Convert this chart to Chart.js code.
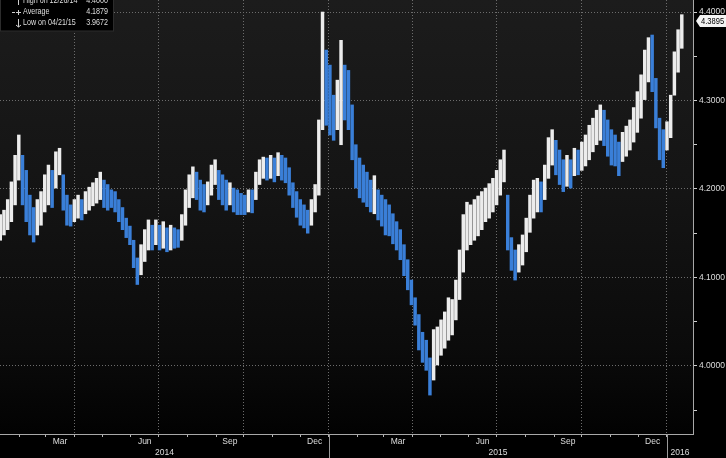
<!DOCTYPE html>
<html>
<head>
<meta charset="utf-8">
<script src="https://cdn.jsdelivr.net/npm/chart.js@4.4.1/dist/chart.umd.min.js"></script>
<style>
  html, body { margin: 0; padding: 0; background: #000; }
  #wrap { width: 726px; height: 458px; }
</style>
</head>
<body>
<div id="wrap"><canvas id="myChart" width="726" height="458"></canvas></div>
<script>
// sampled bars, Jan 2014 - Jan 2016
const dates = [
  '2014-01-11','2014-01-15','2014-01-19','2014-01-23','2014-01-27','2014-01-31',
  '2014-02-04','2014-02-08','2014-02-12','2014-02-16','2014-02-20','2014-02-24','2014-02-28',
  '2014-03-04','2014-03-08','2014-03-12','2014-03-16','2014-03-20','2014-03-24','2014-03-28',
  '2014-04-01','2014-04-05','2014-04-09','2014-04-13','2014-04-17','2014-04-21','2014-04-25','2014-04-29',
  '2014-05-03','2014-05-07','2014-05-11','2014-05-15','2014-05-19','2014-05-23','2014-05-27','2014-05-31',
  '2014-06-04','2014-06-08','2014-06-12','2014-06-16','2014-06-20','2014-06-24','2014-06-28',
  '2014-07-02','2014-07-06','2014-07-10','2014-07-14','2014-07-18','2014-07-22','2014-07-26','2014-07-30',
  '2014-08-03','2014-08-07','2014-08-11','2014-08-15','2014-08-19','2014-08-23','2014-08-27','2014-08-31',
  '2014-09-04','2014-09-08','2014-09-12','2014-09-16','2014-09-20','2014-09-24','2014-09-28',
  '2014-10-02','2014-10-06','2014-10-10','2014-10-14','2014-10-18','2014-10-22','2014-10-26','2014-10-30',
  '2014-11-03','2014-11-07','2014-11-11','2014-11-15','2014-11-19','2014-11-23','2014-11-27',
  '2014-12-01','2014-12-05','2014-12-09','2014-12-13','2014-12-17','2014-12-21','2014-12-25','2014-12-29',
  '2015-01-02','2015-01-06','2015-01-10','2015-01-14','2015-01-18','2015-01-22','2015-01-26','2015-01-30',
  '2015-02-03','2015-02-07','2015-02-11','2015-02-15','2015-02-19','2015-02-23','2015-02-27',
  '2015-03-03','2015-03-07','2015-03-11','2015-03-15','2015-03-19','2015-03-23','2015-03-27','2015-03-31',
  '2015-04-04','2015-04-08','2015-04-12','2015-04-16','2015-04-20','2015-04-24','2015-04-28',
  '2015-05-02','2015-05-06','2015-05-10','2015-05-14','2015-05-18','2015-05-22','2015-05-26','2015-05-30',
  '2015-06-03','2015-06-07','2015-06-11','2015-06-15','2015-06-19','2015-06-23','2015-06-27',
  '2015-07-01','2015-07-05','2015-07-09','2015-07-13','2015-07-17','2015-07-21','2015-07-25','2015-07-29',
  '2015-08-02','2015-08-06','2015-08-10','2015-08-14','2015-08-18','2015-08-22','2015-08-26','2015-08-30',
  '2015-09-03','2015-09-07','2015-09-11','2015-09-15','2015-09-19','2015-09-23','2015-09-27',
  '2015-10-01','2015-10-05','2015-10-09','2015-10-13','2015-10-17','2015-10-21','2015-10-25','2015-10-29',
  '2015-11-02','2015-11-06','2015-11-10','2015-11-14','2015-11-18','2015-11-22','2015-11-26','2015-11-30',
  '2015-12-04','2015-12-08','2015-12-12','2015-12-16','2015-12-20','2015-12-24','2015-12-28',
  '2016-01-01','2016-01-05','2016-01-09','2016-01-13','2016-01-17'
];

const highs = [
  4.171,4.176,4.188,4.208,4.238,4.261,4.238,4.221,4.193,4.179,
  4.188,4.197,4.216,4.227,4.221,4.242,4.246,4.216,4.193,4.182,
  4.188,4.193,4.188,4.197,4.202,4.207,4.212,4.219,4.210,4.205,
  4.199,4.197,4.188,4.179,4.167,4.158,4.142,4.122,4.137,4.154,
  4.165,4.159,4.165,4.159,4.163,4.156,4.159,4.156,4.154,4.171,
  4.199,4.216,4.225,4.219,4.210,4.205,4.208,4.227,4.233,4.221,
  4.216,4.210,4.207,4.201,4.199,4.195,4.193,4.199,4.199,4.219,
  4.233,4.236,4.235,4.238,4.235,4.241,4.238,4.235,4.224,4.207,
  4.197,4.188,4.182,4.176,4.188,4.205,4.278,4.400,4.357,4.340,
  4.306,4.323,4.368,4.340,4.334,4.295,4.250,4.235,4.227,4.219,
  4.210,4.215,4.199,4.193,4.188,4.182,4.172,4.163,4.154,4.137,
  4.120,4.097,4.077,4.058,4.038,4.029,4.009,4.041,4.044,4.052,
  4.061,4.077,4.075,4.097,4.131,4.171,4.185,4.182,4.188,4.192,
  4.197,4.201,4.206,4.212,4.221,4.233,4.244,4.193,4.145,4.131,
  4.137,4.148,4.167,4.193,4.210,4.212,4.208,4.227,4.258,4.267,
  4.255,4.244,4.233,4.238,4.233,4.246,4.244,4.253,4.261,4.272,
  4.280,4.289,4.295,4.289,4.278,4.267,4.261,4.253,4.264,4.271,
  4.278,4.292,4.310,4.329,4.357,4.371,4.374,4.325,4.280,4.267,
  4.276,4.306,4.355,4.380,4.397
];

const lows = [
  4.142,4.148,4.154,4.163,4.182,4.210,4.182,4.163,4.148,4.140,
  4.148,4.159,4.174,4.182,4.179,4.201,4.216,4.176,4.159,4.158,
  4.163,4.167,4.165,4.172,4.176,4.181,4.184,4.188,4.179,4.176,
  4.179,4.174,4.163,4.154,4.145,4.137,4.111,4.092,4.103,4.118,
  4.131,4.131,4.137,4.131,4.133,4.129,4.131,4.133,4.134,4.142,
  4.159,4.179,4.190,4.188,4.176,4.174,4.182,4.193,4.205,4.188,
  4.182,4.176,4.182,4.174,4.171,4.171,4.171,4.174,4.173,4.188,
  4.205,4.212,4.210,4.212,4.208,4.215,4.210,4.207,4.193,4.179,
  4.168,4.159,4.156,4.150,4.159,4.174,4.193,4.267,4.272,4.261,
  4.255,4.267,4.250,4.278,4.267,4.233,4.201,4.190,4.185,4.180,
  4.174,4.172,4.165,4.158,4.148,4.147,4.138,4.131,4.120,4.102,
  4.086,4.069,4.046,4.018,4.004,3.995,3.967,3.984,4.001,4.012,
  4.020,4.029,4.035,4.052,4.075,4.106,4.131,4.137,4.142,4.147,
  4.154,4.163,4.167,4.174,4.182,4.193,4.208,4.131,4.108,4.097,
  4.106,4.114,4.129,4.151,4.167,4.174,4.174,4.188,4.212,4.227,
  4.216,4.205,4.197,4.203,4.201,4.215,4.216,4.221,4.226,4.233,
  4.242,4.250,4.255,4.249,4.237,4.227,4.226,4.215,4.231,4.237,
  4.244,4.253,4.264,4.280,4.301,4.321,4.310,4.269,4.233,4.224,
  4.244,4.258,4.306,4.332,4.359
];

const lastPrice = 4.3895;
const statNames = ['High on 12/26/14', 'Average', 'Low on 04/21/15'];
const statValues = ['4.4000', '4.1879', '3.9672'];

// axis stuff
const monthNames = ['Jan','Feb','Mar','Apr','May','Jun','Jul','Aug','Sep','Oct','Nov','Dec'];
const labelMonths = ['Mar','Jun','Sep','Dec'];
const gridMonths = ['Jan','Apr','Jul','Oct'];
const yearLabels = ['2014','2015','2016'];
const yMajor = [4.0, 4.1, 4.2, 4.3, 4.4];
const yMinor = [3.95, 4.05, 4.15, 4.25, 4.35];
const xMin = 9.7, xMax = 758.1;     // days since 2014-01-01
const yMin = 3.923, yMax = 4.4136;

const FONT = '"Liberation Sans", Arial, sans-serif';
const TXT = '#dedede';
const GRID = '#6c6c6c';
const blue = '#3a7fd8';
const white = '#ececec';

const dayNum = s => (Date.UTC(+s.slice(0, 4), +s.slice(5, 7) - 1, +s.slice(8, 10)) - Date.UTC(2014, 0, 1)) / 86400000;

// month starts covering the range
let monthStarts = [];
yearLabels.forEach(y => {
    monthNames.forEach((m, k) => {
        const d = y + '-' + String(k + 1).padStart(2, '0') + '-01';
        monthStarts.push({ day: dayNum(d), name: m, year: y });
    });
});
monthStarts.push({ day: dayNum('2017-01-01'), name: 'Jan', year: '2017' });

let xTicks = [], xLabelMap = new Map(), gridDays = new Set(), monthDays = new Set();
for (let k = 0; k < monthStarts.length - 1; k++) {
    const ms = monthStarts[k], next = monthStarts[k + 1];
    if (ms.day >= xMin && ms.day <= xMax) {
        xTicks.push(ms.day);
        monthDays.add(ms.day);
        if (gridMonths.includes(ms.name)) gridDays.add(ms.day);
    }
    const mid = (ms.day + next.day) / 2;
    if (labelMonths.includes(ms.name) && mid > xMin && mid < xMax) {
        xTicks.push(mid);
        xLabelMap.set(mid, ms.name);
    }
}
xTicks.sort((a, b) => a - b);

let yearTicks = [], yearMap = new Map(), yearStarts = [];
yearLabels.forEach(y => {
    const s = dayNum(y + '-01-01'), e = dayNum((+y + 1) + '-01-01');
    if (s > xMin) yearStarts.push(s);
    const c = (Math.max(s, xMin) + Math.min(e, xMax)) / 2;
    yearTicks.push(c);
    yearMap.set(c, y);
});

let barColors = highs.map((h, i) => {
    if (i === 0) return white;
    return (h + lows[i]) >= (highs[i - 1] + lows[i - 1]) ? white : blue;
});

const noPad = s => {
    s.paddingTop = 0; s.paddingBottom = 0; s.paddingLeft = 0; s.paddingRight = 0;
};

// narrow text helper (the terminal font is condensed)
function narrowText(ctx, txt, x, y, align) {
    ctx.save();
    ctx.translate(x, y);
    ctx.scale(0.84, 1);
    ctx.textAlign = align;
    ctx.fillText(txt, 0, 0);
    ctx.restore();
}

const overlay = {
    id: 'overlay',
    beforeDraw(chart) {
        const { ctx, chartArea: a } = chart;
        ctx.save();
        ctx.fillStyle = '#000';
        ctx.fillRect(0, 0, chart.width, chart.height);
        const g = ctx.createLinearGradient(0, a.top, 0, a.bottom);
        g.addColorStop(0, '#1c1c1c');
        g.addColorStop(0.45, '#141414');
        g.addColorStop(0.8, '#0b0b0b');
        g.addColorStop(1, '#020202');
        ctx.fillStyle = g;
        ctx.fillRect(a.left, a.top, a.right - a.left, a.bottom - a.top);
        ctx.restore();
    },
    afterDraw(chart) {
        const { ctx } = chart;
        const xs = chart.scales.x, ys = chart.scales.y;
        ctx.save();

        // year separators below the axis
        ctx.strokeStyle = '#9a9a9a';
        ctx.lineWidth = 1;
        yearStarts.forEach(d => {
            const px = Math.round(xs.getPixelForValue(d)) + 0.5;
            ctx.beginPath();
            ctx.moveTo(px, xs.top);
            ctx.lineTo(px, chart.height);
            ctx.stroke();
        });

        // stats box top left
        ctx.fillStyle = '#000';
        ctx.fillRect(0, 0, 113, 31);
        ctx.strokeStyle = '#2c2c2c';
        ctx.strokeRect(0.5, -1, 113, 32);
        ctx.font = '8.5px ' + FONT;
        ctx.textBaseline = 'middle';
        ctx.fillStyle = TXT;
        statNames.forEach((n, i) => {
            const y = 1 + i * 11;
            narrowText(ctx, n, 23, y, 'left');
            narrowText(ctx, statValues[i], 108, y, 'right');
        });
        ctx.strokeStyle = '#cfcfcf';
        ctx.beginPath();
        ctx.moveTo(18.5, -3); ctx.lineTo(18.5, 5);
        ctx.moveTo(16, -1); ctx.lineTo(18.5, -3); ctx.lineTo(21, -1);
        ctx.moveTo(12, 12.5); ctx.lineTo(15, 12.5);
        ctx.moveTo(16, 12.5); ctx.lineTo(21, 12.5);
        ctx.moveTo(18.5, 10); ctx.lineTo(18.5, 15);
        ctx.moveTo(18.5, 19); ctx.lineTo(18.5, 27);
        ctx.moveTo(16, 25); ctx.lineTo(18.5, 27); ctx.lineTo(21, 25);
        ctx.stroke();

        // last price tag
        const ly = Math.round(ys.getPixelForValue(lastPrice));
        const x0 = ys.left + 3;
        ctx.fillStyle = '#f4f4f4';
        ctx.beginPath();
        ctx.moveTo(x0, ly);
        ctx.lineTo(x0 + 4, ly - 6);
        ctx.lineTo(chart.width, ly - 6);
        ctx.lineTo(chart.width, ly + 6);
        ctx.lineTo(x0 + 4, ly + 6);
        ctx.closePath();
        ctx.fill();
        ctx.fillStyle = '#000';
        ctx.font = '9px ' + FONT;
        narrowText(ctx, lastPrice.toFixed(4), x0 + 5, ly + 0.5, 'left');
        ctx.restore();
    }
};

const ctx = document.getElementById('myChart').getContext('2d');
const chart = new Chart(ctx, {
    type: 'bar',
    data: {
        datasets: [{
            data: dates.map((d, i) => ({ x: dayNum(d), y: [lows[i], highs[i]] })),
            backgroundColor: barColors,
            borderWidth: 0,
            barThickness: 2.8
        }]
    },
    options: {
        responsive: false,
        animation: false,
        events: [],
        layout: { padding: 0 },
        plugins: { legend: { display: false }, tooltip: { enabled: false } },
        scales: {
            x: {
                type: 'linear',
                position: 'bottom',
                min: xMin, max: xMax,
                bounds: 'data',
                offset: false,
                weight: 0,
                afterBuildTicks: s => { s.ticks = xTicks.map(v => ({ value: v })); },
                afterFit: s => { s.height = 12; noPad(s); },
                ticks: {
                    autoSkip: false, maxRotation: 0, padding: 0,
                    color: TXT, font: { family: FONT, size: 8.5 },
                    callback: v => xLabelMap.get(v) || ''
                },
                grid: {
                    offset: false,
                    drawOnChartArea: true,
                    color: c => (c.tick && gridDays.has(c.tick.value)) ? GRID : 'rgba(0,0,0,0)',
                    tickColor: c => (c.tick && monthDays.has(c.tick.value)) ? '#b5b5b5' : 'rgba(0,0,0,0)',
                    tickLength: 3
                },
                border: { color: '#a8a8a8', dash: [1, 2] }
            },
            x2: {
                type: 'linear',
                position: 'bottom',
                min: xMin, max: xMax,
                bounds: 'data',
                offset: false,
                weight: 1,
                afterBuildTicks: s => { s.ticks = yearTicks.map(v => ({ value: v })); },
                afterFit: s => { s.height = 12; noPad(s); },
                ticks: {
                    autoSkip: false, maxRotation: 0, padding: -6,
                    color: TXT, font: { family: FONT, size: 8.5 },
                    callback: v => yearMap.get(v) || ''
                },
                grid: { display: false },
                border: { display: false }
            },
            y: {
                type: 'linear',
                position: 'right',
                min: yMin, max: yMax,
                bounds: 'data',
                beginAtZero: false,
                afterBuildTicks: s => {
                    s.ticks = yMajor.concat(yMinor).sort((a, b) => a - b).map(v => ({ value: v }));
                },
                afterFit: s => { s.width = 33; noPad(s); },
                ticks: {
                    autoSkip: false, padding: 2,
                    color: TXT, font: { family: FONT, size: 8.5 },
                    callback: v => yMajor.includes(v) ? v.toFixed(4) : ''
                },
                grid: {
                    color: c => (c.tick && yMajor.includes(c.tick.value)) ? GRID : 'rgba(0,0,0,0)',
                    tickColor: '#cfcfcf',
                    tickLength: 4
                },
                border: { color: '#a8a8a8', dash: [1, 2] }
            }
        }
    },
    plugins: [overlay]
});
</script>
</body>
</html>
